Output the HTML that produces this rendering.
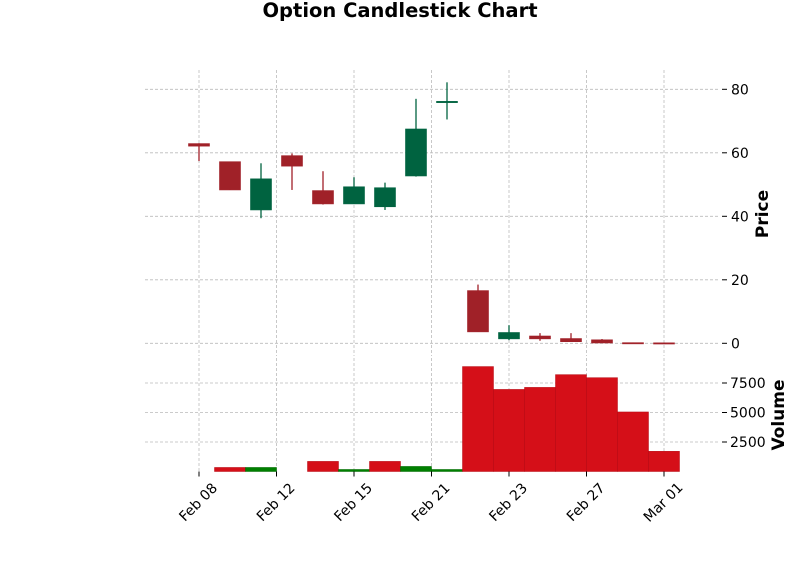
<!DOCTYPE html>
<html><head><meta charset="utf-8"><style>
body{margin:0;background:#fff;width:800px;height:575px;overflow:hidden}
svg{font-family:"DejaVu Sans","Liberation Sans",sans-serif}
</style></head><body>
<svg id="chart" width="800" height="575" xmlns="http://www.w3.org/2000/svg">
<text x="400" y="17" text-anchor="middle" font-size="19.5" font-weight="bold">Option Candlestick Chart</text>
<g id="grid"></g><g id="marks"></g><g id="axes"></g>
<text transform="translate(768,214) rotate(-90)" text-anchor="middle" font-size="17" font-weight="bold">Price</text>
<text transform="translate(784,415) rotate(-90)" text-anchor="middle" font-size="17" font-weight="bold">Volume</text>
</svg>
<script>
const opens  = [62.9,57.2,42.0,59.1,48.1,43.9,43.0,52.7,75.8,16.6,1.4,2.3,1.5,1.1,0.2,0.15];
const highs  = [63.0,57.2,56.7,59.8,54.2,52.3,50.6,77.0,82.2,18.5,5.7,3.2,3.2,1.35,0.25,0.2];
const lows   = [57.4,48.3,39.4,48.3,43.7,43.9,42.0,52.5,70.5,3.6,1.0,0.8,0.5,0.1,0.05,0.05];
const closes = [62.1,48.3,51.8,55.8,43.9,49.3,49.0,67.5,76.2,3.6,3.4,1.4,0.5,0.1,0.05,0.05];
const volumes = [0,342,342,0,855,171,855,428,171,8894,6955,7127,8210,7953,5046,1710];
const volUp = [false,false,true,false,false,true,false,true,true,false,false,false,false,false,false,false];
const xTickPos = [0,2.5,5,7.5,10,12.5,15];
const xTickLabels = ["Feb 08","Feb 12","Feb 15","Feb 21","Feb 23","Feb 27","Mar 01"];
const priceTicks = [0,20,40,60,80];
const volTicks = [2500,5000,7500];

const NS="http://www.w3.org/2000/svg";
const L=145,R=720,PT=70,PB=356,VT=358,VB=471.5;
const x=i=>199+31*i;
const py=v=>343.3-v*3.175;
const vy=v=>VB-v/2500*29.5;
function mk(tag,attrs,parent){const e=document.createElementNS(NS,tag);for(const k in attrs)e.setAttribute(k,attrs[k]);document.getElementById(parent).appendChild(e);return e;}
xTickPos.forEach(t=>{
  let g=mk('line',{x1:x(t),x2:x(t),y1:PT,y2:PB,stroke:'#bbb','stroke-width':0.8,'stroke-dasharray':'3,2'},'grid');
  
  
  let g2=mk('line',{x1:x(t),x2:x(t),y1:VT,y2:VB,stroke:'#bbb','stroke-width':0.8,'stroke-dasharray':'3,2'},'grid');
  
  
  let tk=mk('line',{x1:x(t),x2:x(t),y1:VB,y2:VB+5,stroke:'#000','stroke-width':1},'axes');
  
  
});
xTickLabels.forEach((s,i)=>{
  const tx=x(xTickPos[i])+2.5, ty=VB+34;
  let t=mk('text',{x:tx,y:ty,'text-anchor':'middle','font-size':14,transform:`rotate(-45 ${tx} ${ty})`},'axes');
  t.textContent=s;
  
  
});
priceTicks.forEach(v=>{
  let g=mk('line',{x1:L,x2:R,y1:py(v),y2:py(v),stroke:'#bbb','stroke-width':0.8,'stroke-dasharray':'3,2'},'grid');
  
  
  let tk=mk('line',{x1:R+2,x2:R+7,y1:py(v),y2:py(v),stroke:'#000'},'axes');
  
  
  let t=mk('text',{x:R+11,y:py(v)+5,'font-size':14},'axes');
  t.textContent=v;
  
  
});
volTicks.forEach(v=>{
  let g=mk('line',{x1:L,x2:R,y1:vy(v),y2:vy(v),stroke:'#bbb','stroke-width':0.8,'stroke-dasharray':'3,2'},'grid');
  
  
  let tk=mk('line',{x1:R+2,x2:R+7,y1:vy(v),y2:vy(v),stroke:'#000'},'axes');
  
  
  let t=mk('text',{x:R+10,y:vy(v)+5,'font-size':14},'axes');
  t.textContent=v;
  
  
});
volumes.forEach((v,i)=>{
  if(!v)return;
  const col=volUp[i]?'#007f00':'#d50f18';
  let b=mk('rect',{x:x(i)-15.5,y:vy(v),width:31,height:VB-vy(v),fill:col,stroke:volUp[i]?'#006a00':'#b50d15','stroke-width':0.5},'marks');
  
  
});
opens.forEach((o,i)=>{
  const c=closes[i],up=c>=o,col=up?'#006340':'#a02128';
  const cx=x(i);
  let w=mk('line',{x1:cx,x2:cx,y1:py(highs[i]),y2:py(lows[i]),stroke:col,'stroke-width':1.3},'marks');
  
  
  const top=py(Math.max(o,c)),h=Math.max(py(Math.min(o,c))-top,1.2);
  let b=mk('rect',{x:cx-10.5,y:top,width:21,height:h,fill:col,stroke:col,'stroke-width':0.6},'marks');
  
  
});
</script>
</body></html>
